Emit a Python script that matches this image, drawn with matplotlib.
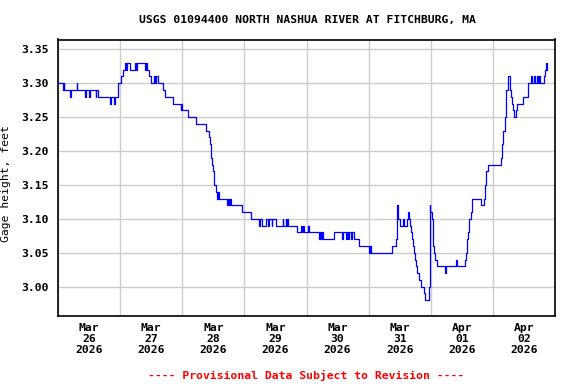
import datetime as dt
import matplotlib
matplotlib.use('Agg')
import matplotlib.pyplot as plt
import matplotlib.dates as mdates
from matplotlib.ticker import MultipleLocator

# gage height readings, hours after 2026-03-26 00:00
hours = [0.0, 1.9, 2.2, 2.5, 4.5, 5.2, 7.2, 7.5, 10.5, 10.9, 12.1, 12.4, 14.5, 14.8, 15.3,
         20.0, 20.3, 21.7, 22.0, 23.1, 24.4, 25.3, 25.9, 26.3, 26.7, 27.9, 29.8, 30.1, 30.4,
         33.5, 33.9, 34.2, 35.1, 35.8, 37.1, 37.4, 37.7, 38.5, 40.5, 41.5, 44.6, 47.5, 47.7,
         47.9, 50.2, 53.5, 57.0, 58.2, 58.6, 59.0, 59.4, 59.8, 60.1, 60.4, 60.9, 61.4, 61.8,
         62.2, 65.3, 65.6, 66.2, 66.5, 67.0, 71.1, 74.7, 77.8, 78.2, 78.9, 80.4, 81.2, 81.5,
         82.5, 82.8, 84.3, 86.8, 87.1, 88.0, 88.2, 88.6, 89.0, 92.4,
         93.7, 94.3, 94.6, 95.0, 96.6, 96.9, 100.8, 101.2, 101.6, 102.0, 102.3, 106.6, 109.8,
         110.2, 111.2, 111.6, 112.2, 112.6, 113.2, 113.6, 114.3, 116.3, 120.1, 120.4, 120.8,
         129.2, 130.5, 131.1, 131.3, 131.5, 132.1, 133.3, 133.7, 134.7, 135.2, 135.5, 135.8,
         136.2, 136.6, 137.2, 137.5, 137.9, 138.2, 138.6, 139.5, 140.4, 141.2, 141.8, 143.5,
         143.6, 143.9, 144.3, 144.7, 145.0, 145.3, 145.8, 146.6, 149.5, 149.8, 153.8, 154.0,
         157.3, 157.8, 158.1, 158.4, 158.8, 159.5, 160.0, 163.4, 164.6, 165.0, 165.5, 166.3,
         171.1, 171.5, 172.0, 172.6, 172.9, 173.2, 173.7, 174.5, 174.7, 175.0, 175.4, 175.6,
         176.3, 176.9, 177.5, 179.6, 181.4, 182.7, 183.2, 184.0, 184.4, 184.9, 185.4, 185.7,
         186.1, 187.6, 188.1, 188.5, 188.8, 189.0]
gage = [3.30, 3.29, 3.30, 3.29, 3.28, 3.29, 3.30, 3.29, 3.28, 3.29, 3.28, 3.29, 3.28, 3.29, 3.28,
        3.27, 3.28, 3.27, 3.28, 3.30, 3.31, 3.32, 3.33, 3.32, 3.33, 3.32, 3.33, 3.32, 3.33,
        3.32, 3.33, 3.32, 3.31, 3.30, 3.31, 3.30, 3.31, 3.30, 3.29, 3.28, 3.27, 3.26, 3.27,
        3.26, 3.25, 3.24, 3.23, 3.22, 3.21, 3.19, 3.18, 3.17, 3.16, 3.15, 3.14, 3.13, 3.14,
        3.13, 3.12, 3.13, 3.12, 3.13, 3.12, 3.11, 3.10, 3.09, 3.10, 3.09, 3.10, 3.09, 3.10,
        3.09, 3.10, 3.09, 3.10, 3.09, 3.10, 3.09, 3.10, 3.09, 3.08,
        3.09, 3.08, 3.09, 3.08, 3.09, 3.08, 3.07, 3.08, 3.07, 3.08, 3.07, 3.08, 3.07,
        3.08, 3.07, 3.08, 3.07, 3.08, 3.07, 3.08, 3.07, 3.06, 3.05, 3.06, 3.05,
        3.06, 3.07, 3.12, 3.11, 3.10, 3.09, 3.10, 3.09, 3.10, 3.11, 3.10, 3.09,
        3.08, 3.07, 3.06, 3.05, 3.04, 3.03, 3.02, 3.01, 3.00, 2.99, 2.98, 3.00,
        3.12, 3.11, 3.10, 3.08, 3.06, 3.05, 3.04, 3.03, 3.02, 3.03, 3.04, 3.03,
        3.04, 3.05, 3.07, 3.08, 3.10, 3.11, 3.13, 3.12, 3.13, 3.15, 3.17, 3.18,
        3.19, 3.21, 3.23, 3.25, 3.27, 3.29, 3.31, 3.30, 3.29, 3.28, 3.27, 3.26,
        3.25, 3.26, 3.27, 3.28, 3.30, 3.31, 3.30, 3.31, 3.30, 3.31, 3.30, 3.31,
        3.30, 3.31, 3.32, 3.33, 3.32, 3.32]

title = 'USGS 01094400 NORTH NASHUA RIVER AT FITCHBURG, MA'
ylabel = 'Gage height, feet'
note = '---- Provisional Data Subject to Revision ----'

start = dt.datetime(2026, 3, 26)
times = [start + dt.timedelta(hours=h) for h in hours]

plt.rcParams['font.family'] = 'DejaVu Sans Mono'
plt.rcParams['font.weight'] = 'bold'
plt.rcParams['font.size'] = 8.2

fig = plt.figure(figsize=(5.76, 3.84), dpi=100)
ax = fig.add_axes([58 / 576, 1 - 316 / 384, 497 / 576, 276.5 / 384])

ax.plot(times, gage, color='#0000ff', lw=0.9, drawstyle='steps-post', zorder=3)

ax.set_xlim(start, start + dt.timedelta(days=8))
ax.set_ylim(2.9568, 3.3645)

ax.yaxis.set_major_locator(MultipleLocator(0.05))
ax.yaxis.set_major_formatter(plt.FormatStrFormatter('%.2f'))
ax.xaxis.set_major_locator(mdates.DayLocator())
ax.xaxis.set_major_formatter(plt.NullFormatter())
ax.xaxis.set_minor_locator(mdates.HourLocator(byhour=[12]))
ax.xaxis.set_minor_formatter(mdates.DateFormatter('%b\n%d\n%Y'))

ax.grid(True, which='major', color='#cccccc', lw=1.0)
ax.tick_params(which='both', length=0)
ax.tick_params(axis='y', pad=7)
ax.tick_params(axis='x', which='minor', pad=5)
for lab in ax.xaxis.get_minorticklabels():
    lab.set_linespacing(1.15)

for s in ax.spines.values():
    s.set_linewidth(1.2)

ax.set_ylabel(ylabel)
ax.yaxis.set_label_coords(-0.095, 0.48)

fig.text(307 / 576, 1 - 20 / 384, title, ha='center', va='center')
fig.text(306 / 576, 1 - 375 / 384, note, ha='center', va='center', color='#ff0000')

fig.savefig('out.png', dpi=100)
